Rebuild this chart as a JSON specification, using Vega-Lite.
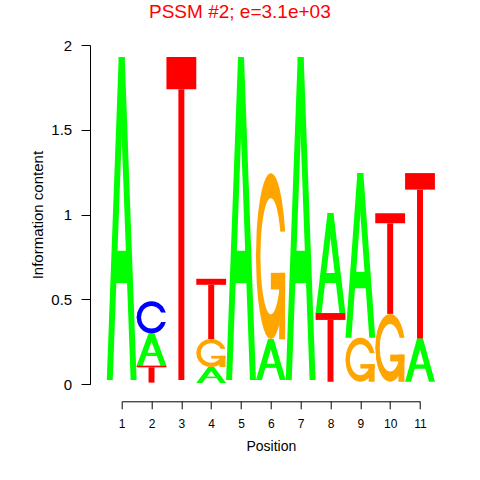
{
  "$schema": "https://vega.github.io/schema/vega-lite/v6.json",
  "width": 298.3,
  "height": 339.3,
  "autosize": {"type": "none"},
  "padding": {"left": 121.7, "top": 45, "right": 60, "bottom": 95.7},
  "background": "white",
  "title": {"text": "PSSM #2; e=3.1e+03", "color": "#FF0000", "font": "Liberation Sans", "fontSize": 19, "fontWeight": "normal", "anchor": "middle", "frame": "group", "dx": -31, "dy": 2.5, "baseline": "bottom", "offset": 0},
  "config": {"view": {"stroke": null}, "font": "Liberation Sans"},
  "data": {"values": [
    {"pos": 1, "letter": "A", "h": 1.905}, {"pos": 1, "letter": "C", "h": 0.008}, {"pos": 1, "letter": "G", "h": 0.008}, {"pos": 1, "letter": "T", "h": 0.009},
    {"pos": 2, "letter": "A", "h": 0.19}, {"pos": 2, "letter": "C", "h": 0.19}, {"pos": 2, "letter": "G", "h": 0.01}, {"pos": 2, "letter": "T", "h": 0.10},
    {"pos": 3, "letter": "A", "h": 0.008}, {"pos": 3, "letter": "C", "h": 0.008}, {"pos": 3, "letter": "G", "h": 0.009}, {"pos": 3, "letter": "T", "h": 1.905},
    {"pos": 4, "letter": "A", "h": 0.094}, {"pos": 4, "letter": "C", "h": 0.008}, {"pos": 4, "letter": "G", "h": 0.165}, {"pos": 4, "letter": "T", "h": 0.355},
    {"pos": 5, "letter": "A", "h": 1.905}, {"pos": 5, "letter": "C", "h": 0.008}, {"pos": 5, "letter": "G", "h": 0.008}, {"pos": 5, "letter": "T", "h": 0.009},
    {"pos": 6, "letter": "A", "h": 0.24}, {"pos": 6, "letter": "C", "h": 0.01}, {"pos": 6, "letter": "G", "h": 0.98}, {"pos": 6, "letter": "T", "h": 0.015},
    {"pos": 7, "letter": "A", "h": 1.905}, {"pos": 7, "letter": "C", "h": 0.008}, {"pos": 7, "letter": "G", "h": 0.008}, {"pos": 7, "letter": "T", "h": 0.009},
    {"pos": 8, "letter": "A", "h": 0.59}, {"pos": 8, "letter": "C", "h": 0.007}, {"pos": 8, "letter": "G", "h": 0.008}, {"pos": 8, "letter": "T", "h": 0.405},
    {"pos": 9, "letter": "A", "h": 0.97}, {"pos": 9, "letter": "C", "h": 0.007}, {"pos": 9, "letter": "G", "h": 0.26}, {"pos": 9, "letter": "T", "h": 0.008},
    {"pos": 10, "letter": "A", "h": 0.007}, {"pos": 10, "letter": "C", "h": 0.008}, {"pos": 10, "letter": "G", "h": 0.40}, {"pos": 10, "letter": "T", "h": 0.593},
    {"pos": 11, "letter": "A", "h": 0.255}, {"pos": 11, "letter": "C", "h": 0.007}, {"pos": 11, "letter": "G", "h": 0.008}, {"pos": 11, "letter": "T", "h": 0.975}
  ]},
  "transform": [
    {"stack": "h", "groupby": ["pos"], "sort": [{"field": "h", "order": "ascending"}, {"field": "letter", "order": "ascending"}], "as": ["y0", "y1"]},
    {"filter": "datum.h > 0.03"}
  ],
  "encoding": {
    "x": {"field": "xa", "type": "quantitative", "stack": null,
      "scale": {"domain": [1, 11], "nice": false, "zero": false},
      "axis": {"title": "Position", "values": [1, 2, 3, 4, 5, 6, 7, 8, 9, 10, 11], "format": "d", "offset": 17, "grid": false,
        "tickSize": 7.5, "tickColor": "#000000", "domainColor": "#000000", "tickWidth": 1, "domainWidth": 1,
        "labelFont": "Liberation Sans", "labelFontSize": 12, "labelColor": "#000000", "labelBaseline": "alphabetic", "labelPadding": 18.8, "labelFlush": false, "labelOverlap": false,
        "titleFont": "Liberation Sans", "titleFontSize": 14, "titleFontWeight": "normal", "titleColor": "#000000", "titleBaseline": "alphabetic", "titleY": 48.7}},
    "y": {"field": "ya", "type": "quantitative", "stack": null,
      "scale": {"domain": [0, 2], "nice": false, "zero": false},
      "axis": {"title": "Information content", "values": [0, 0.5, 1, 1.5, 2], "format": "~g", "offset": 31.7, "grid": false,
        "tickSize": 9, "tickColor": "#000000", "domainColor": "#000000", "tickWidth": 1, "domainWidth": 1,
        "labelFont": "Liberation Sans", "labelFontSize": 15, "labelColor": "#000000", "labelAngle": 0, "labelAlign": "right", "labelBaseline": "middle", "labelPadding": 9.3, "labelFlush": false, "labelOverlap": false,
        "titleFont": "Liberation Sans", "titleFontSize": 15, "titleFontWeight": "normal", "titleColor": "#000000", "titleAngle": -90, "titleBaseline": "alphabetic", "titleX": -47.3}}
  },
  "layer": [
    {
      "transform": [
        {"filter": "datum.letter === 'A'"},
        {"calculate": "[0, 1]", "as": "vs"},
        {"flatten": ["vs"]},
        {"calculate": "datum.y0 + datum.vs * datum.h", "as": "ya"},
        {"calculate": "datum.pos - 0.5 + 0.4 * datum.vs", "as": "xa"},
        {"calculate": "datum.pos - 0.3 + 0.4 * datum.vs", "as": "xb"}
      ],
      "mark": {"type": "area", "orient": "horizontal", "color": "#00FF00"},
      "encoding": {"x2": {"field": "xb"}, "detail": {"field": "pos", "type": "nominal"}}
    },
    {
      "transform": [
        {"filter": "datum.letter === 'A'"},
        {"calculate": "[0, 1]", "as": "vs"},
        {"flatten": ["vs"]},
        {"calculate": "datum.y0 + datum.vs * datum.h", "as": "ya"},
        {"calculate": "datum.pos + 0.3 - 0.4 * datum.vs", "as": "xa"},
        {"calculate": "datum.pos + 0.5 - 0.4 * datum.vs", "as": "xb"}
      ],
      "mark": {"type": "area", "orient": "horizontal", "color": "#00FF00"},
      "encoding": {"x2": {"field": "xb"}, "detail": {"field": "pos", "type": "nominal"}}
    },
    {
      "transform": [
        {"filter": "datum.letter === 'A'"},
        {"calculate": "datum.pos - 0.2", "as": "xa"},
        {"calculate": "datum.pos + 0.2", "as": "xb"},
        {"calculate": "datum.y0 + 0.3 * datum.h", "as": "ya"},
        {"calculate": "datum.y0 + 0.4 * datum.h", "as": "yb"}
      ],
      "mark": {"type": "rect", "color": "#00FF00"},
      "encoding": {"x2": {"field": "xb"}, "y2": {"field": "yb"}}
    },
    {
      "transform": [
        {"filter": "datum.letter === 'T'"},
        {"calculate": "datum.pos - 0.5", "as": "xa"},
        {"calculate": "datum.pos + 0.5", "as": "xb"},
        {"calculate": "datum.y0 + 0.9 * datum.h", "as": "ya"},
        {"calculate": "datum.y1", "as": "yb"}
      ],
      "mark": {"type": "rect", "color": "#FF0000"},
      "encoding": {"x2": {"field": "xb"}, "y2": {"field": "yb"}}
    },
    {
      "transform": [
        {"filter": "datum.letter === 'T'"},
        {"calculate": "datum.pos - 0.1", "as": "xa"},
        {"calculate": "datum.pos + 0.1", "as": "xb"},
        {"calculate": "datum.y0", "as": "ya"},
        {"calculate": "datum.y0 + 0.9 * datum.h", "as": "yb"}
      ],
      "mark": {"type": "rect", "color": "#FF0000"},
      "encoding": {"x2": {"field": "xb"}, "y2": {"field": "yb"}}
    },
    {
      "transform": [
        {"filter": "datum.letter === 'C' || datum.letter === 'G'"},
        {"calculate": "[0, 0.01, 0.03, 0.06, 0.1, 0.16, 0.24, 0.34, 0.5, 0.66, 0.76, 0.84, 0.9, 0.94, 0.97, 0.99, 1]", "as": "vs"},
        {"flatten": ["vs"]},
        {"calculate": "datum.y0 + datum.vs * datum.h", "as": "ya"},
        {"calculate": "datum.pos - 0.5 * sqrt(max(0, 1 - pow(2 * datum.vs - 1, 2)))", "as": "xa"},
        {"calculate": "datum.pos + 0.5 * sqrt(max(0, 1 - pow(2 * datum.vs - 1, 2)))", "as": "xb"}
      ],
      "mark": {"type": "area", "orient": "horizontal"},
      "encoding": {
        "x2": {"field": "xb"},
        "detail": {"field": "pos", "type": "nominal"},
        "color": {"field": "letter", "type": "nominal", "scale": {"domain": ["A", "C", "G", "T"], "range": ["#00FF00", "#0000FF", "#FFA500", "#FF0000"]}, "legend": null}
      }
    },
    {
      "transform": [
        {"filter": "datum.letter === 'C' || datum.letter === 'G'"},
        {"calculate": "[0, 0.01, 0.03, 0.06, 0.1, 0.16, 0.24, 0.34, 0.5, 0.66, 0.76, 0.84, 0.9, 0.94, 0.97, 0.99, 1]", "as": "vs"},
        {"flatten": ["vs"]},
        {"calculate": "datum.y0 + (0.15 + 0.7 * datum.vs) * datum.h", "as": "ya"},
        {"calculate": "datum.pos - 0.35 * sqrt(max(0, 1 - pow(2 * datum.vs - 1, 2)))", "as": "xa"},
        {"calculate": "datum.pos + 0.35 * sqrt(max(0, 1 - pow(2 * datum.vs - 1, 2)))", "as": "xb"}
      ],
      "mark": {"type": "area", "orient": "horizontal", "color": "#FFFFFF"},
      "encoding": {"x2": {"field": "xb"}, "detail": {"field": "pos", "type": "nominal"}}
    },
    {
      "transform": [
        {"filter": "datum.letter === 'C' || datum.letter === 'G'"},
        {"calculate": "datum.pos", "as": "xa"},
        {"calculate": "datum.pos + 0.52", "as": "xb"},
        {"calculate": "datum.y0 + 0.352 * datum.h", "as": "ya"},
        {"calculate": "datum.y0 + 0.648 * datum.h", "as": "yb"}
      ],
      "mark": {"type": "rect", "color": "#FFFFFF"},
      "encoding": {"x2": {"field": "xb"}, "y2": {"field": "yb"}}
    },
    {
      "transform": [
        {"filter": "datum.letter === 'G'"},
        {"calculate": "datum.pos", "as": "xa"},
        {"calculate": "datum.pos + 0.478", "as": "xb"},
        {"calculate": "datum.y0 + 0.3 * datum.h", "as": "ya"},
        {"calculate": "datum.y0 + 0.4 * datum.h", "as": "yb"}
      ],
      "mark": {"type": "rect", "color": "#FFA500"},
      "encoding": {"x2": {"field": "xb"}, "y2": {"field": "yb"}}
    },
    {
      "transform": [
        {"filter": "datum.letter === 'G'"},
        {"calculate": "datum.pos + 0.278", "as": "xa"},
        {"calculate": "datum.pos + 0.478", "as": "xb"},
        {"calculate": "datum.y0", "as": "ya"},
        {"calculate": "datum.y0 + 0.4 * datum.h", "as": "yb"}
      ],
      "mark": {"type": "rect", "color": "#FFA500"},
      "encoding": {"x2": {"field": "xb"}, "y2": {"field": "yb"}}
    }
  ]
}
